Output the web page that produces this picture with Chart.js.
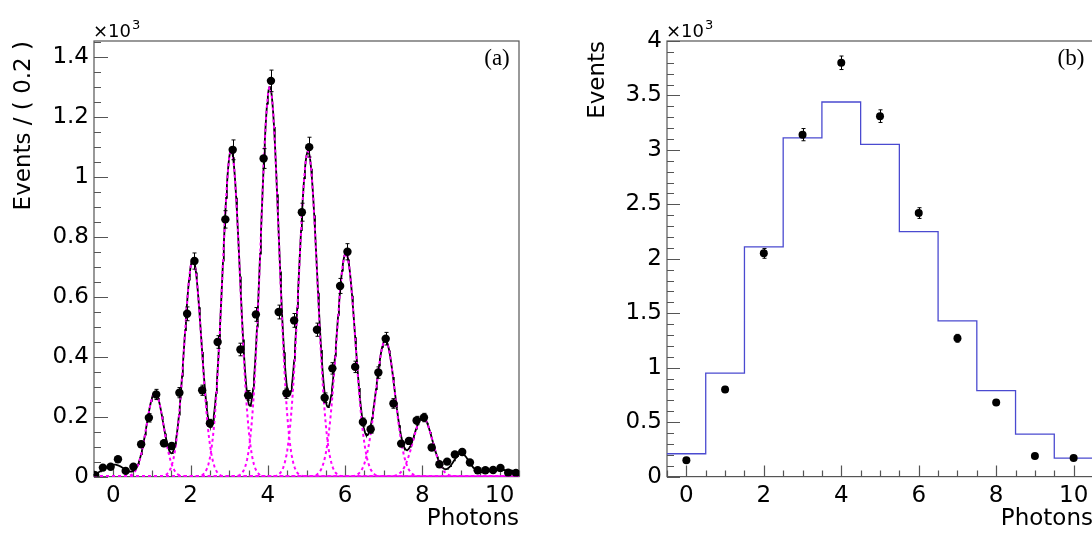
<!DOCTYPE html>
<html>
<head>
<meta charset="utf-8">
<script src="https://cdn.jsdelivr.net/npm/chart.js@4.4.1/dist/chart.umd.min.js"></script>
<style>
html, body { margin: 0; padding: 0; background: #fff; overflow: hidden; width: 1092px; height: 534px; }
#wrapA { position: absolute; left: 0; top: 0; width: 560px; height: 534px; }
#wrapB { position: absolute; left: 560px; top: 0; width: 540px; height: 534px; }
</style>
</head>
<body>
<div id="wrapA"><canvas id="chartA" width="560" height="534"></canvas></div>
<div id="wrapB"><canvas id="chartB" width="540" height="534"></canvas></div>
<script>
'use strict';

// ---- panel (a): photon spectrum, 0.2 wide bins, events in units of 10^3
const binCentersA = [-0.47, -0.27, -0.07, 0.12, 0.32, 0.52, 0.72, 0.92, 1.11, 1.31,
  1.51, 1.71, 1.91, 2.10, 2.30, 2.50, 2.70, 2.90, 3.09, 3.29,
  3.49, 3.69, 3.89, 4.08, 4.28, 4.48, 4.68, 4.88, 5.07, 5.27,
  5.47, 5.67, 5.87, 6.06, 6.26, 6.46, 6.66, 6.86, 7.05, 7.25,
  7.45, 7.65, 7.85, 8.04, 8.24, 8.44, 8.64, 8.84, 9.03, 9.23,
  9.43, 9.63, 9.83, 10.02, 10.22, 10.42];
const eventsA = [0.005, 0.030, 0.033, 0.058, 0.019, 0.033, 0.108, 0.196, 0.274, 0.111,
  0.102, 0.280, 0.543, 0.719, 0.288, 0.178, 0.449, 0.858, 1.090, 0.424,
  0.271, 0.541, 1.061, 1.320, 0.549, 0.278, 0.521, 0.882, 1.099, 0.490,
  0.263, 0.361, 0.636, 0.750, 0.366, 0.182, 0.158, 0.347, 0.460, 0.244,
  0.110, 0.119, 0.187, 0.197, 0.097, 0.041, 0.050, 0.074, 0.082, 0.047,
  0.021, 0.021, 0.022, 0.029, 0.013, 0.012];
const errorsA = [0.002, 0.005, 0.006, 0.008, 0.004, 0.006, 0.010, 0.014, 0.017, 0.011,
  0.010, 0.017, 0.023, 0.027, 0.017, 0.013, 0.021, 0.029, 0.033, 0.021,
  0.016, 0.023, 0.033, 0.036, 0.023, 0.017, 0.023, 0.030, 0.033, 0.022,
  0.016, 0.019, 0.025, 0.027, 0.019, 0.013, 0.013, 0.019, 0.021, 0.016,
  0.010, 0.011, 0.014, 0.014, 0.010, 0.006, 0.007, 0.009, 0.009, 0.007,
  0.005, 0.005, 0.005, 0.005, 0.004, 0.003];

// fitted gaussian components (0 .. 10 photons)
const peakMean = [0.02, 1.08, 2.06, 3.05, 4.05, 5.04, 6.02, 7.04, 8.01, 9.0, 10.1];
const peakHeight = [0.04, 0.28, 0.725, 1.09, 1.30, 1.085, 0.745, 0.455, 0.198, 0.075, 0.022];
const peakSigma = [0.28, 0.22, 0.225, 0.23, 0.235, 0.24, 0.245, 0.25, 0.25, 0.21, 0.5];
const dashedPeaks = [1, 2, 3, 4, 5, 6, 7, 8];

const xTicksA = [0, 2, 4, 6, 8, 10];
const yTicksA = [0, 0.2, 0.4, 0.6, 0.8, 1, 1.2, 1.4];

// ---- panel (b): events per photon number, units of 10^3
const photons = [0, 1, 2, 3, 4, 5, 6, 7, 8, 9, 10];
const eventsB = [0.15, 0.80, 2.05, 3.14, 3.80, 3.31, 2.42, 1.27, 0.68, 0.19, 0.17];
const errorsB = [0.012, 0.028, 0.045, 0.056, 0.062, 0.058, 0.049, 0.036, 0.026, 0.014, 0.013];
const binEdgesB = [-0.5, 0.5, 1.5, 2.5, 3.5, 4.5, 5.5, 6.5, 7.5, 8.5, 9.5, 10.5];
const histB = [0.21, 0.95, 2.11, 3.11, 3.44, 3.05, 2.25, 1.43, 0.79, 0.39, 0.17];

const xTicksB = [0, 2, 4, 6, 8, 10];
const yTicksB = [0, 0.5, 1, 1.5, 2, 2.5, 3, 3.5, 4];

const FONT = 'DejaVu Sans';

function gauss(i, x) {
    const d = x - peakMean[i];
    return peakHeight[i] * Math.exp(-d * d / (2 * peakSigma[i] * peakSigma[i]));
}

const curveX = [];
for (let x = -0.5; x <= 10.5001; x += 0.02) curveX.push(x);

const totalCurve = curveX.map(x => ({ x: x, y: peakMean.reduce((s, m, i) => s + gauss(i, x), 0) }));

// error bars on the points
const errorBars = {
    id: 'errorBars',
    afterDatasetsDraw(chart) {
        const ctx = chart.ctx;
        const xs = chart.scales.x, ys = chart.scales.y;
        const o = chart.options.plugins.errorBars;
        ctx.save();
        ctx.strokeStyle = '#000';
        ctx.lineWidth = 1;
        ctx.beginPath();
        o.x.forEach((xv, i) => {
            const px = Math.round(xs.getPixelForValue(xv)) + 0.5;
            const top = ys.getPixelForValue(o.y[i] + o.err[i]);
            const bot = ys.getPixelForValue(o.y[i] - o.err[i]);
            ctx.moveTo(px, top); ctx.lineTo(px, bot);
            ctx.moveTo(px - 2, top); ctx.lineTo(px + 2, top);
            ctx.moveTo(px - 2, bot); ctx.lineTo(px + 2, bot);
        });
        ctx.stroke();
        ctx.restore();
    }
};

// frame, inward ticks (ROOT style), exponent and panel tag
const frame = {
    id: 'frame',
    beforeDatasetsDraw(chart) {
        const ctx = chart.ctx;
        const a = chart.chartArea;
        const xs = chart.scales.x, ys = chart.scales.y;
        const o = chart.options.plugins.frame;
        ctx.save();
        ctx.strokeStyle = '#555';
        ctx.lineWidth = 1.2;
        ctx.strokeRect(a.left, a.top, a.right - a.left, a.bottom - a.top);
        ctx.beginPath();
        const nx = Math.round((xs.max - xs.min) / o.xMinor);
        for (let k = 0; k <= nx; k++) {
            const v = xs.min + k * o.xMinor;
            const major = o.xTicks.some(t => Math.abs(t - v) < 1e-6);
            const px = Math.round(xs.getPixelForValue(v)) + 0.5;
            ctx.moveTo(px, a.bottom);
            ctx.lineTo(px, a.bottom - (major ? 11 : 6));
        }
        const ny = Math.floor((ys.max - ys.min) / o.yMinor + 1e-6);
        for (let k = 0; k <= ny; k++) {
            const v = ys.min + k * o.yMinor;
            const major = o.yTicks.some(t => Math.abs(t - v) < 1e-6);
            const py = Math.round(ys.getPixelForValue(v)) + 0.5;
            ctx.moveTo(a.left, py);
            ctx.lineTo(a.left + (major ? o.yMajorLen : 7), py);
        }
        ctx.stroke();

        ctx.fillStyle = '#000';
        ctx.textAlign = 'left';
        ctx.textBaseline = 'alphabetic';
        ctx.font = '18px "' + FONT + '"';
        ctx.fillText('×10', a.left - 1, 37);
        const w = ctx.measureText('×10').width;
        ctx.font = '13px "' + FONT + '"';
        ctx.fillText('3', a.left + w, 29);
        ctx.font = '23px "Liberation Serif"';
        ctx.textAlign = 'center';
        ctx.textBaseline = 'middle';
        ctx.fillText(o.tag, a.right - 22, 59);
        ctx.restore();
    }
};

function scales(xTicks, yTicks, yMax, yWidth, yTitle, yTitlePad) {
    return {
        x: {
            type: 'linear', min: -0.5, max: 10.5,
            afterBuildTicks: s => { s.ticks = xTicks.map(v => ({ value: v })); },
            afterFit: s => { s.height = 57.4; },
            grid: { display: false, drawTicks: false, tickLength: 0 }, border: { display: false },
            ticks: { font: { family: FONT, size: 23 }, color: '#000', padding: 6, maxRotation: 0, autoSkip: false,
                callback: v => String(v) },
            title: { display: true, text: 'Photons', align: 'end', color: '#000',
                font: { family: FONT, size: 23, lineHeight: 1 }, padding: { top: 0, bottom: 3 } }
        },
        y: {
            type: 'linear', min: 0, max: yMax,
            afterBuildTicks: s => { s.ticks = yTicks.map(v => ({ value: v })); },
            afterFit: s => { s.width = yWidth; },
            grid: { display: false, drawTicks: false, tickLength: 0 }, border: { display: false },
            ticks: { font: { family: FONT, size: 23 }, color: '#000', padding: 5, autoSkip: false,
                callback: v => String(+v.toFixed(2)) },
            title: { display: true, text: yTitle, align: 'end', color: '#000',
                font: { family: FONT, size: 23, lineHeight: 1 }, padding: { top: yTitlePad, bottom: 0 } }
        }
    };
}

const common = {
    responsive: false,
    animation: false,
    events: [],
    plugins: { legend: { display: false }, tooltip: { enabled: false } }
};

// ---- chart (a)
const datasetsA = [{
    data: binCentersA.map((x, i) => ({ x: x, y: eventsA[i] })),
    showLine: false, pointRadius: 4.2, pointBorderWidth: 0,
    pointBackgroundColor: '#000', borderColor: '#000', order: 0
}];
dashedPeaks.forEach(i => {
    datasetsA.push({
        data: curveX.map(x => ({ x: x, y: gauss(i, x) })),
        borderColor: '#ff00ff', borderWidth: 2, borderDash: [3, 3],
        pointRadius: 0, tension: 0, order: 1
    });
});
datasetsA.push({
    data: totalCurve, borderColor: '#000', borderWidth: 1.8,
    pointRadius: 0, tension: 0, order: 2
});

new Chart(document.getElementById('chartA'), {
    type: 'line',
    data: { datasets: datasetsA },
    options: Object.assign({}, common, {
        layout: { padding: { top: 41, right: 41, left: 0, bottom: 0 } },
        scales: scales(xTicksA, yTicksA, 1.453, 94, 'Events / ( 0.2 )', 13),
        plugins: Object.assign({}, common.plugins, {
            errorBars: { x: binCentersA, y: eventsA, err: errorsA },
            frame: { xTicks: xTicksA, yTicks: yTicksA, xMinor: 0.5, yMinor: 0.05, yMajorLen: 14, tag: '(a)' }
        })
    }),
    plugins: [errorBars, frame]
});

// ---- chart (b)
new Chart(document.getElementById('chartB'), {
    type: 'line',
    data: {
        datasets: [{
            data: photons.map((x, i) => ({ x: x, y: eventsB[i] })),
            showLine: false, pointRadius: 4, pointBorderWidth: 0,
            pointBackgroundColor: '#000', borderColor: '#000', order: 0
        }, {
            data: binEdgesB.map((x, i) => ({ x: x, y: histB[Math.min(i, histB.length - 1)] })),
            stepped: 'before', borderColor: '#4a4ad0', borderWidth: 1.3,
            pointRadius: 0, order: 1
        }]
    },
    options: Object.assign({}, common, {
        layout: { padding: { top: 41, right: 7, left: 0, bottom: 0 } },
        scales: scales(xTicksB, yTicksB, 4, 107, 'Events', 27),
        plugins: Object.assign({}, common.plugins, {
            errorBars: { x: photons, y: eventsB, err: errorsB },
            frame: { xTicks: xTicksB, yTicks: yTicksB, xMinor: 0.5, yMinor: 0.1, yMajorLen: 13, tag: '(b)' }
        })
    }),
    plugins: [errorBars, frame]
});
</script>
</body>
</html>
